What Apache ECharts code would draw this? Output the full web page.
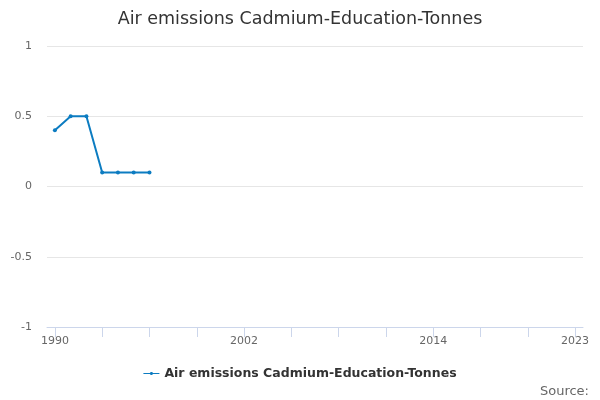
<!DOCTYPE html>
<html><head><meta charset="utf-8">
<script src="https://cdn.jsdelivr.net/npm/echarts@6/dist/echarts.min.js"></script>
<style>html,body{margin:0;padding:0;background:#fff}#c{width:600px;height:400px}</style>
</head><body><div id="c"></div>
<script>
var years = [];
for (var y = 1990; y <= 2023; y++) years.push(String(y));
var seriesName = 'Air emissions Cadmium-Education-Tonnes';
var values = [0.4, 0.5, 0.5, 0.1, 0.1, 0.1, 0.1];
var yTicks = [-1, -0.5, 0, 0.5, 1];

var chart = echarts.init(document.getElementById('c'));
chart.setOption({
  animation: false,
  title: {text: seriesName, left: 'center', top: 5,
    textStyle: {fontFamily: 'DejaVu Sans', fontSize: 17.5, fontWeight: 'normal', color: '#333'}},
  legend: {bottom: 15, left: 'center', itemWidth: 16, itemHeight: 5, itemGap: 5,
    icon: 'path://M0,2L6.5,2A1.6,1.6,0,0,1,9.5,2L16,2L16,3L9.5,3A1.6,1.6,0,0,1,6.5,3L0,3Z',
    textStyle: {fontFamily: 'DejaVu Sans', fontSize: 12.5, fontWeight: 'bold', color: '#333'}},
  graphic: [{type: 'text', right: 11, bottom: 2,
    style: {text: 'Source:', fontFamily: 'DejaVu Sans', fontSize: 13, fill: '#666'}}],
  grid: {left: 47, right: 17, top: 46, bottom: 73},
  xAxis: {type: 'category', data: years, boundaryGap: true,
    axisLine: {show: true, onZero: false, lineStyle: {color: '#ccd6eb', width: 1}},
    axisTick: {show: true, alignWithLabel: true, length: 10, interval: 2,
      lineStyle: {color: '#ccd6eb', width: 1}},
    axisLabel: {color: '#666', fontFamily: 'DejaVu Sans', fontSize: 11, margin: 9,
      interval: function (i) { return i % 12 === 0 || i === years.length - 1; }},
    splitLine: {show: false}},
  yAxis: {type: 'value', min: yTicks[0], max: yTicks[yTicks.length - 1], interval: 0.5,
    axisLine: {show: false}, axisTick: {show: false},
    axisLabel: {color: '#666', fontFamily: 'DejaVu Sans', fontSize: 11, margin: 15},
    splitLine: {lineStyle: {color: '#e6e6e6'}}},
  series: [{name: seriesName, type: 'line', data: values,
    symbol: 'circle', symbolSize: 4, color: '#0c7cc1',
    lineStyle: {width: 2, color: '#0c7cc1'}}]
});
</script></body></html>
